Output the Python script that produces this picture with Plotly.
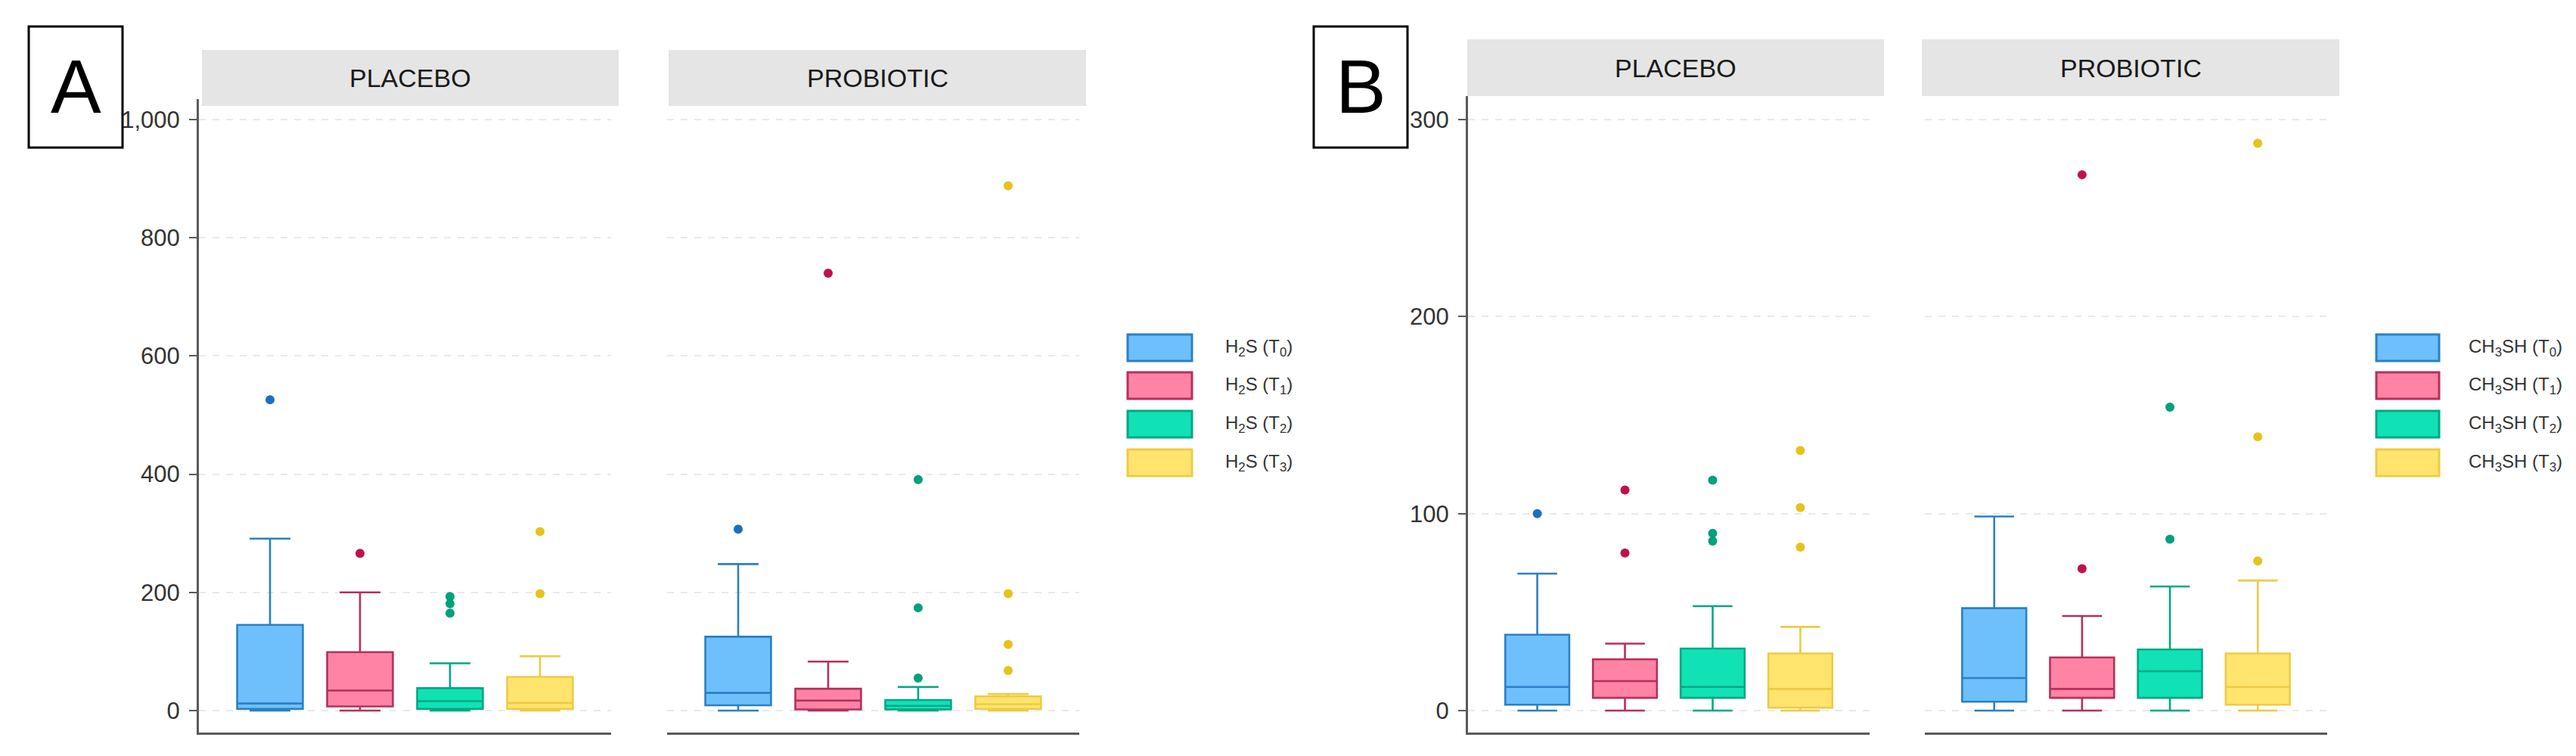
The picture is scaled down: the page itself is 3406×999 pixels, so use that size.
import plotly.graph_objects as go

W, H = 3406, 999

CATEGORIES = ["T0", "T1", "T2", "T3"]
X_POS = [0, 1, 2, 3]

# Panel A : H2S
A_PLACEBO_Q1 = [3, 7, 3, 3]
A_PLACEBO_MED = [12, 34, 16, 13]
A_PLACEBO_Q3 = [145, 99, 38, 57]
A_PLACEBO_LO = [0, 0, 0, 0]
A_PLACEBO_HI = [291, 200, 80, 92]
A_PLACEBO_OUT = [[526], [266], [193, 181, 165], [303, 198]]

A_PROBIOTIC_Q1 = [9, 2, 2, 3]
A_PROBIOTIC_MED = [30, 17, 8, 11]
A_PROBIOTIC_Q3 = [125, 37, 18, 24]
A_PROBIOTIC_LO = [0, 0, 0, 0]
A_PROBIOTIC_HI = [248, 83, 40, 28]
A_PROBIOTIC_OUT = [[307], [740], [391, 174, 55], [888, 198, 112, 68]]

# Panel B : CH3SH
B_PLACEBO_Q1 = [3, 6.5, 6.5, 1.5]
B_PLACEBO_MED = [12, 15, 12, 11]
B_PLACEBO_Q3 = [38.5, 26, 31.5, 29]
B_PLACEBO_LO = [0, 0, 0, 0]
B_PLACEBO_HI = [69.5, 34, 53, 42.5]
B_PLACEBO_OUT = [[100], [112, 80], [117, 90, 86], [132, 103, 83]]

B_PROBIOTIC_Q1 = [4.5, 6.5, 6.5, 3]
B_PROBIOTIC_MED = [16.5, 11, 20, 12]
B_PROBIOTIC_Q3 = [52, 27, 31, 29]
B_PROBIOTIC_LO = [0, 0, 0, 0]
B_PROBIOTIC_HI = [98.5, 48, 63, 66]
B_PROBIOTIC_OUT = [[], [272, 72], [154, 87], [288, 139, 76]]

FACETS = ["PLACEBO", "PROBIOTIC"]
LEGEND_A = ["H<sub>2</sub>S (T<sub>0</sub>)", "H<sub>2</sub>S (T<sub>1</sub>)",
            "H<sub>2</sub>S (T<sub>2</sub>)", "H<sub>2</sub>S (T<sub>3</sub>)"]
LEGEND_B = ["CH<sub>3</sub>SH (T<sub>0</sub>)", "CH<sub>3</sub>SH (T<sub>1</sub>)",
            "CH<sub>3</sub>SH (T<sub>2</sub>)", "CH<sub>3</sub>SH (T<sub>3</sub>)"]

FILL = ["#6EC0FC", "#FF83A4", "#10E2B6", "#FFE46E"]
LINE = ["#2A80C4", "#B5305A", "#00A883", "#EDCB45"]
DOT = ["#1C6EC2", "#C0124A", "#00A07C", "#E6C21C"]

FONT = "Liberation Sans, Arial, sans-serif"


def px(x):
    return x / W


def py(y):
    return 1 - y / H


fig = go.Figure()

panels = [
    ("x", "y", A_PLACEBO_Q1, A_PLACEBO_MED, A_PLACEBO_Q3, A_PLACEBO_LO, A_PLACEBO_HI, A_PLACEBO_OUT),
    ("x2", "y2", A_PROBIOTIC_Q1, A_PROBIOTIC_MED, A_PROBIOTIC_Q3, A_PROBIOTIC_LO, A_PROBIOTIC_HI, A_PROBIOTIC_OUT),
    ("x3", "y3", B_PLACEBO_Q1, B_PLACEBO_MED, B_PLACEBO_Q3, B_PLACEBO_LO, B_PLACEBO_HI, B_PLACEBO_OUT),
    ("x4", "y4", B_PROBIOTIC_Q1, B_PROBIOTIC_MED, B_PROBIOTIC_Q3, B_PROBIOTIC_LO, B_PROBIOTIC_HI, B_PROBIOTIC_OUT),
]

for xa, ya, q1, med, q3, lo, hi, out in panels:
    for i in range(4):
        fig.add_trace(go.Box(
            x=[X_POS[i]], q1=[q1[i]], median=[med[i]], q3=[q3[i]],
            lowerfence=[lo[i]], upperfence=[hi[i]],
            width=0.73, whiskerwidth=0.62, boxpoints=False,
            fillcolor=FILL[i], line=dict(color=LINE[i], width=2.6),
            xaxis=xa, yaxis=ya, name=CATEGORIES[i], showlegend=False,
        ))
        if out[i]:
            fig.add_trace(go.Scatter(
                x=[X_POS[i]] * len(out[i]), y=out[i], mode="markers",
                marker=dict(size=12, color=DOT[i]),
                xaxis=xa, yaxis=ya, showlegend=False,
            ))

XR = [-0.79, 3.79]
AX_COL = "#5a5a5a"
GRID_COL = "#e9e9e9"

xdoms = [(263, 808), (882, 1427), (1941, 2472), (2545, 3077)]
ydom_A = [py(968), py(131)]
ydom_B = [py(968), py(127)]
yr_A = [-37.1, 1034.6]
yr_B = [-11.14, 311.9]

layout = dict(
    width=W, height=H, autosize=False,
    margin=dict(l=0, r=0, t=0, b=0, pad=0),
    paper_bgcolor="white", plot_bgcolor="white",
    showlegend=False, boxmode="overlay",
    font=dict(family=FONT, color="#333333"),
)

for k, (a, b) in enumerate(xdoms):
    name = "xaxis" if k == 0 else f"xaxis{k+1}"
    layout[name] = dict(
        domain=[px(a), px(b)], range=XR, anchor="y" if k == 0 else f"y{k+1}",
        showticklabels=False, ticks="", showgrid=False, zeroline=False,
        showline=True, linecolor=AX_COL, linewidth=3, fixedrange=True,
    )

for k in range(4):
    name = "yaxis" if k == 0 else f"yaxis{k+1}"
    isA = k < 2
    first = k % 2 == 0
    d = dict(
        domain=ydom_A if isA else ydom_B,
        range=yr_A if isA else yr_B,
        anchor="x" if k == 0 else f"x{k+1}",
        tickmode="linear", tick0=0, dtick=200 if isA else 100,
        tickformat=",d",
        showgrid=True, gridcolor=GRID_COL, gridwidth=2, griddash="dash",
        zeroline=False, fixedrange=True,
    )
    if first:
        d.update(showline=True, linecolor=AX_COL, linewidth=3,
                 ticks="outside", ticklen=10, tickwidth=2, tickcolor=AX_COL,
                 showticklabels=True, tickfont=dict(size=31, color="#333333", family=FONT),
                 ticklabelstandoff=6)
    else:
        d.update(showline=False, ticks="", showticklabels=False)
    layout[name] = d

fig.update_layout(**layout)

shapes = []
annotations = []

# facet strips
strips = [
    (267, 818, 66, 140, FACETS[0]),
    (884, 1436, 66, 140, FACETS[1]),
    (1940, 2491, 52, 127, FACETS[0]),
    (2541, 3093, 52, 127, FACETS[1]),
]
for x0, x1, y0, y1, txt in strips:
    shapes.append(dict(type="rect", xref="paper", yref="paper",
                       x0=px(x0), x1=px(x1), y0=py(y1), y1=py(y0),
                       fillcolor="#e5e5e5", line=dict(width=0), layer="below"))
    annotations.append(dict(xref="paper", yref="paper", x=px((x0 + x1) / 2), y=py((y0 + y1) / 2),
                            text=txt, showarrow=False, xanchor="center", yanchor="middle",
                            font=dict(size=34, color="#1a1a1a", family=FONT)))

# panel labels
for x0, x1, txt in [(38, 162, "A"), (1737, 1861, "B")]:
    shapes.append(dict(type="rect", xref="paper", yref="paper",
                       x0=px(x0), x1=px(x1), y0=py(195), y1=py(35),
                       fillcolor="white", line=dict(color="black", width=3)))
    annotations.append(dict(xref="paper", yref="paper", x=px((x0 + x1) / 2), y=py(114),
                            text=txt, showarrow=False, xanchor="center", yanchor="middle",
                            font=dict(size=100, color="black", family=FONT)))

# legends (drawn keys)
key_tops = [442, 492, 543, 594]
for kx0, kx1, tx, labels in [(1491, 1576, 1618, LEGEND_A), (3142, 3225, 3262, LEGEND_B)]:
    for i in range(4):
        t = key_tops[i]
        shapes.append(dict(type="rect", xref="paper", yref="paper",
                           x0=px(kx0), x1=px(kx1), y0=py(t + 35), y1=py(t),
                           fillcolor=FILL[i], line=dict(color=LINE[i], width=3)))
        annotations.append(dict(xref="paper", yref="paper", x=px(tx), y=py(t + 17.5),
                                text=labels[i], showarrow=False, xanchor="left", yanchor="middle",
                                font=dict(size=24, color="#333333", family=FONT)))

fig.update_layout(shapes=shapes, annotations=annotations)

fig.write_html("out.html")
